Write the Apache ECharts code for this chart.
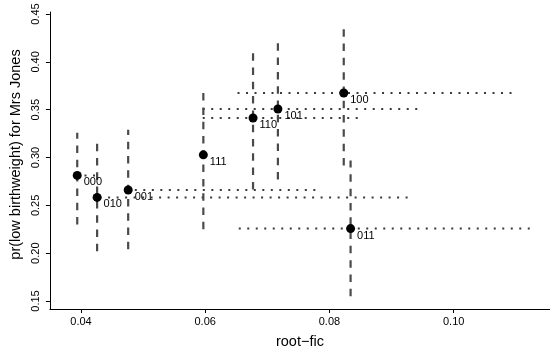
<!DOCTYPE html>
<html>
<head>
<meta charset="utf-8">
<script src="https://cdn.jsdelivr.net/npm/echarts@6/dist/echarts.min.js"></script>
<style>
html,body{margin:0;padding:0;background:#fff;}
#c{width:550px;height:354px;}
</style>
</head>
<body>
<div id="c"></div>
<script>
var labels   = ['000','010','001','111','110','101','100','011'];
var rootFic  = [0.0394,0.0426,0.0476,0.0597,0.0677,0.0717,0.0823,0.0834];
var prLow    = [0.2813,0.2583,0.2660,0.3028,0.3413,0.3507,0.3674,0.2257];
var prLower  = [0.230,0.202,0.204,0.225,0.2667,0.277,0.2917,0.155];
var prUpper  = [0.326,0.3156,0.329,0.373,0.4156,0.425,0.4406,0.297];
var ficLower = [0.0392,0.0430,0.0473,0.0596,0.0596,0.0596,0.0652,0.0654];
var ficUpper = [0.0428,0.0934,0.0787,0.0598,0.0854,0.0942,0.1100,0.1126];
var xTicks = [0.04,0.06,0.08,0.10];
var yTicks = [0.15,0.20,0.25,0.30,0.35,0.40,0.45];

var FONT = 'Liberation Sans, Arial, Helvetica, sans-serif';
var chart = echarts.init(document.getElementById('c'), null, {renderer:'canvas'});

var vData = labels.map(function(l,i){ return [rootFic[i], prLower[i], prUpper[i]]; });
var hData = labels.map(function(l,i){ return [ficLower[i], ficUpper[i], prLow[i]]; });
var pData = labels.map(function(l,i){ return {value:[rootFic[i], prLow[i]], name:l}; });

chart.setOption({
  animation:false,
  backgroundColor:'#fff',
  grid:{left:48, top:12, width:503, height:298},
  xAxis:{
    type:'value', min:0.035, max:0.1155,
    name:'root\u2212fic', nameLocation:'middle', nameGap:25,
    nameTextStyle:{fontFamily:FONT, fontSize:14.5, color:'#000'},
    axisLine:{show:true, onZero:false, lineStyle:{color:'#000', width:1}},
    axisTick:{show:true, length:4, customValues:xTicks, lineStyle:{color:'#000'}},
    axisLabel:{customValues:xTicks, margin:7, fontFamily:FONT, fontSize:11, color:'#000',
      formatter:function(v){ return v.toFixed(2); }},
    splitLine:{show:false}
  },
  yAxis:{
    type:'value', min:0.14167, max:0.4521,
    name:'pr(low birthweight) for Mrs Jones', nameLocation:'middle', nameGap:26,
    nameTextStyle:{fontFamily:FONT, fontSize:14.5, color:'#000', padding:[0,0,0,12]},
    axisLine:{show:true, onZero:false, lineStyle:{color:'#000', width:1}},
    axisTick:{show:true, length:4, customValues:yTicks, lineStyle:{color:'#000'}},
    axisLabel:{customValues:yTicks, rotate:90, margin:8, fontFamily:FONT, fontSize:11, color:'#000',
      formatter:function(v){ return v.toFixed(2); }},
    splitLine:{show:false}
  },
  series:[
    {
      type:'custom', name:'fic-interval', data:hData, z:2,
      encode:{x:[0,1], y:2},
      renderItem:function(params, api){
        var a = api.coord([api.value(0), api.value(2)]);
        var b = api.coord([api.value(1), api.value(2)]);
        return {type:'line', shape:{x1:a[0], y1:a[1], x2:b[0], y2:b[1]},
          style:{stroke:'#3a3a3a', lineWidth:2, lineDash:[2,6.5], lineCap:'butt'}};
      }
    },
    {
      type:'custom', name:'pr-interval', data:vData, z:3,
      encode:{x:0, y:[1,2]},
      renderItem:function(params, api){
        var a = api.coord([api.value(0), api.value(1)]);
        var b = api.coord([api.value(0), api.value(2)]);
        return {type:'line', shape:{x1:a[0], y1:a[1], x2:b[0], y2:b[1]},
          style:{stroke:'#4a4a4a', lineWidth:2.2, lineDash:[7.5,6.8], lineCap:'butt'}};
      }
    },
    {
      type:'scatter', name:'estimate', data:pData, z:5,
      symbol:'circle', symbolSize:9,
      itemStyle:{color:'#000', opacity:1},
      label:{show:true, position:'right', distance:2, offset:[0,7],
        formatter:'{b}', fontFamily:FONT, fontSize:11, color:'#000', opacity:1}
    }
  ]
});
</script>
</body>
</html>
